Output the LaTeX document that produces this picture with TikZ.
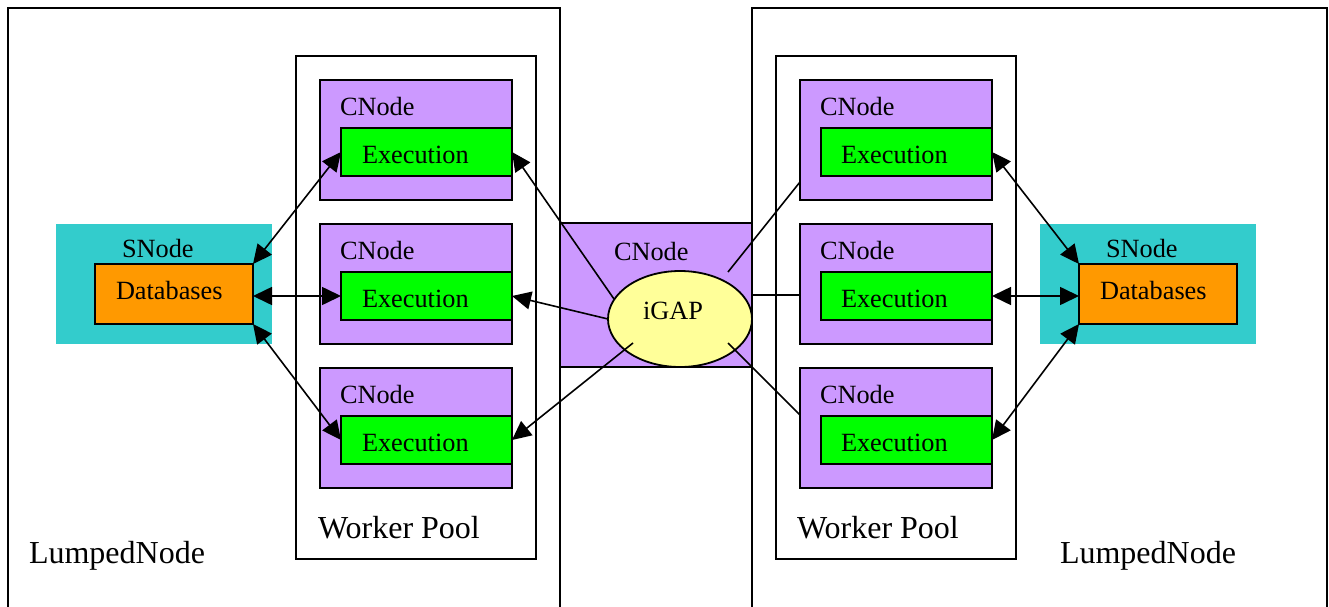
\documentclass[tikz,border=0pt]{standalone}
\usepackage{fontspec}
\setmainfont{Liberation Serif}
\usetikzlibrary{shapes.geometric,arrows.meta}
\definecolor{cyanbg}{HTML}{33CCCC}
\definecolor{purp}{HTML}{CC99FF}
\definecolor{grn}{HTML}{00FF00}
\definecolor{orng}{HTML}{FF9900}
\definecolor{ylw}{HTML}{FFFF99}
\begin{document}
\begin{tikzpicture}[x=1pt,y=-1pt,
  box/.style={draw, line width=1.8pt, inner sep=0pt, outer sep=0pt, anchor=north west},
  framebox/.style={box, fill=white},
  cnodebox/.style={box, fill=purp, minimum width=192pt, minimum height=120pt},
  execbox/.style={box, fill=grn, minimum width=171pt, minimum height=48pt},
  snodebox/.style={fill=cyanbg, inner sep=0pt, outer sep=0pt, anchor=north west, minimum width=216pt, minimum height=120pt},
  dbbox/.style={box, fill=orng, minimum width=158pt, minimum height=60pt},
  lbl/.style={anchor=base west, inner sep=0pt, outer sep=0pt, font=\fontsize{26.3}{30}\selectfont},
  biglbl/.style={lbl, font=\fontsize{32}{36}\selectfont},
  conn/.style={line width=1.6pt},
  biarrow/.style={conn, {Triangle[length=19pt,width=18pt]}-{Triangle[length=19pt,width=18pt]}},
  onearrow/.style={conn, -{Triangle[length=19pt,width=18pt]}}
]
\useasboundingbox (0,0) rectangle (1329,607);

% Lumped nodes
\node[framebox, minimum width=552pt, minimum height=620pt] (lln) at (8,8) {};
\node[framebox, minimum width=575pt, minimum height=620pt] (rln) at (752,8) {};

% Worker pools
\node[framebox, minimum width=240pt, minimum height=503pt] (lwp) at (296,56) {};
\node[framebox, minimum width=240pt, minimum height=503pt] (rwp) at (776,56) {};

% Left CNodes
\node[cnodebox] (lc1) at (320,80) {};
\node[cnodebox] (lc2) at (320,224) {};
\node[cnodebox] (lc3) at (320,368) {};
\node[execbox] (le1) at (341,128) {};
\node[execbox] (le2) at (341,272) {};
\node[execbox] (le3) at (341,416) {};

% Right CNodes
\node[cnodebox] (rc1) at (800,80) {};
\node[cnodebox] (rc2) at (800,224) {};
\node[cnodebox] (rc3) at (800,368) {};
\node[execbox] (re1) at (821,128) {};
\node[execbox] (re2) at (821,272) {};
\node[execbox] (re3) at (821,416) {};

% SNodes
\node[snodebox] (lsn) at (56,224) {};
\node[dbbox] (ldb) at (95,264) {};
\node[snodebox] (rsn) at (1040,224) {};
\node[dbbox] (rdb) at (1079,264) {};

% Center CNode
\node[box, fill=purp, minimum width=192pt, minimum height=144pt] (cc) at (560,223) {};
\node[draw, line width=1.8pt, fill=ylw, ellipse, inner sep=0pt, outer sep=0pt,
      minimum width=144pt, minimum height=96pt] (igap) at (680,319) {};

% Labels
\node[lbl] (tlc1) at (340,115) {CNode};
\node[lbl] (tlc2) at (340,259) {CNode};
\node[lbl] (tlc3) at (340,403) {CNode};
\node[lbl] (tle1) at (362,163) {Execution};
\node[lbl] (tle2) at (362,307) {Execution};
\node[lbl] (tle3) at (362,451) {Execution};
\node[lbl] (trc1) at (820,115) {CNode};
\node[lbl] (trc2) at (820,259) {CNode};
\node[lbl] (trc3) at (820,403) {CNode};
\node[lbl] (tre1) at (841,163) {Execution};
\node[lbl] (tre2) at (841,307) {Execution};
\node[lbl] (tre3) at (841,451) {Execution};
\node[lbl] (tlsn) at (122,257) {SNode};
\node[lbl] (tldb) at (116,299) {Databases};
\node[lbl] (trsn) at (1106,257) {SNode};
\node[lbl] (trdb) at (1100,299) {Databases};
\node[lbl] (tcc) at (614,260) {CNode};
\node[lbl] (tig) at (643,319) {iGAP};
\node[biglbl] (tlwp) at (318,538) {Worker Pool};
\node[biglbl] (trwp) at (797,538) {Worker Pool};
\node[biglbl] (tlln) at (29,563) {LumpedNode};
\node[biglbl] (trln) at (1060,563) {LumpedNode};

% Connector ends near iGAP
\coordinate (g1) at (614,299);
\coordinate (g3) at (633,343);
\coordinate (g4) at (728,272);
\coordinate (g6) at (728,343);

% Left database links
\draw[biarrow] (ldb.north east) -- (le1.west);
\draw[biarrow] (le2.west -| ldb.east) -- (le2.west);
\draw[biarrow] (ldb.south east) -- (le3.west);

% Right database links
\draw[biarrow] (re1.east) -- (rdb.north west);
\draw[biarrow] (re2.east) -- (re2.east -| rdb.west);
\draw[biarrow] (re3.east) -- (rdb.south west);

% iGAP links
\draw[onearrow] (g1) -- (le1.east);
\draw[onearrow] (igap.west) -- (le2.east);
\draw[onearrow] (g3) -- (le3.east);
\draw[conn] (g4) -- ([yshift=-42pt]rc1.west);
\draw[conn] (cc.east) -- (cc.east -| rc2.west);
\draw[conn] (g6) -- ([yshift=13pt]rc3.west);
\end{tikzpicture}
\end{document}
